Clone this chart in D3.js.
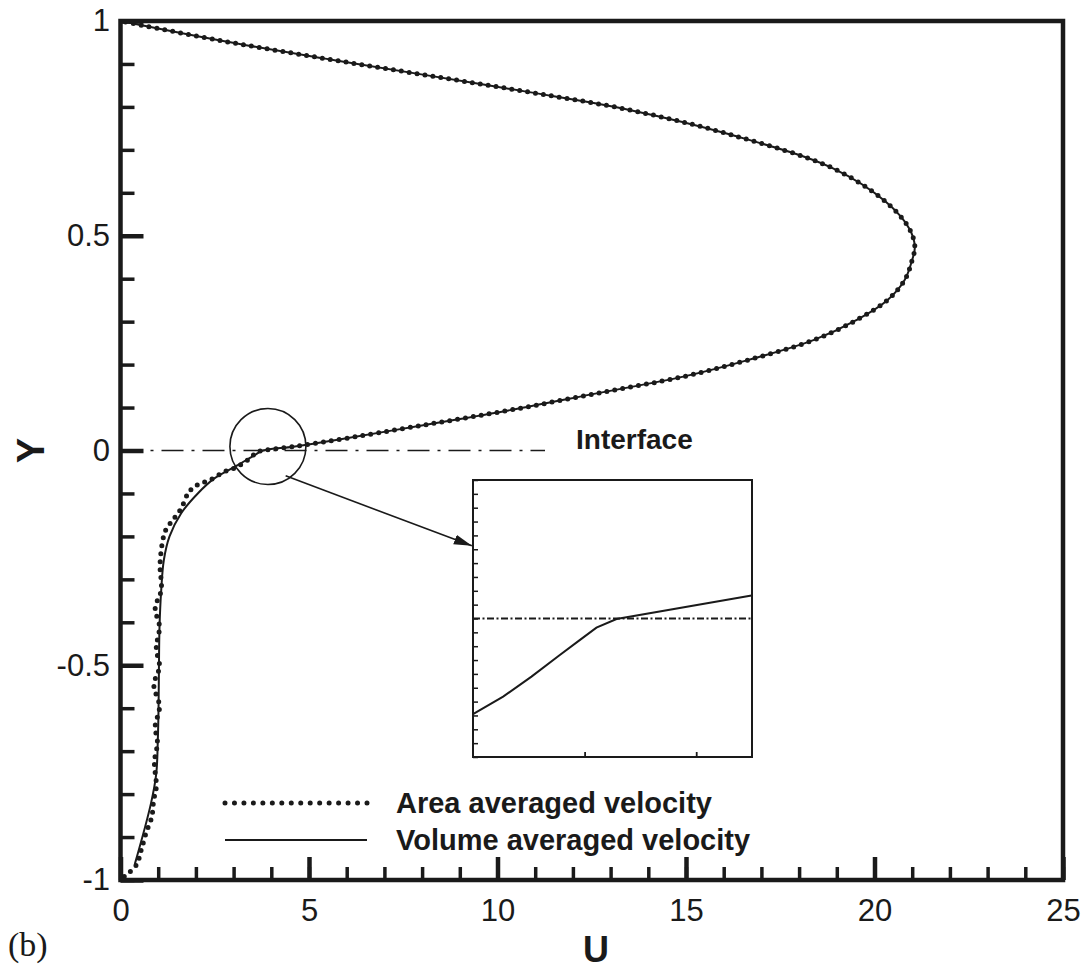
<!DOCTYPE html>
<html><head><meta charset="utf-8">
<script src="https://cdn.jsdelivr.net/npm/d3@7"></script>
<style>
body{margin:0;background:#fff}
svg{display:block}
text{font-family:"Liberation Sans",Arial,Helvetica,sans-serif;fill:#1a1a1a}
</style>
</head><body>
<svg id="chart" width="1089" height="969"></svg>
<script>
// ---------- data ----------
const xMajorTicks = [0, 5, 10, 15, 20, 25];
const xMinorTicks = d3.range(0, 26, 1);
const yMajorTicks = [-1, -0.5, 0, 0.5, 1];
const yMajorLabels = ["-1", "-0.5", "0", "0.5", "1"];
const yMinorTicks = d3.range(-10, 11, 1).map(d => d / 10);

// shared upper (Y > 0) profile
const upperU = [3.78, 4.58, 5.72, 8.03, 10.33, 12.63, 14.93, 16.66, 18.38, 19.53, 20.34, 20.8, 21.0, 21.07, 20.92, 20.3, 18.9, 16.2, 13.5, 10.8, 8.1, 5.39, 2.68, 0];
const upperY = [0, 0.009, 0.0245, 0.059, 0.094, 0.133, 0.172, 0.211, 0.257, 0.304, 0.35, 0.397, 0.444, 0.475, 0.517, 0.579, 0.657, 0.735, 0.793, 0.835, 0.874, 0.913, 0.954, 1.0];

// volume averaged velocity, lower (Y < 0) part
const volLowerU = [0.38, 0.81, 0.95, 0.99, 1.01, 1.02, 1.035, 1.08, 1.15, 1.30, 1.61, 2.05, 2.49, 3.11, 3.56];
const volLowerY = [-0.963, -0.821, -0.751, -0.674, -0.596, -0.503, -0.41, -0.325, -0.255, -0.2, -0.146, -0.1, -0.065, -0.034, -0.0105];

// area averaged velocity, lower (Y < 0) part
const areaLowerU = [0.1, 0.42, 0.55, 0.68, 0.83, 0.88, 0.95, 0.90, 0.98, 0.92, 1.035, 0.885, 1.035, 0.95, 0.97, 1.035, 0.92, 1.08, 1.05, 1.19, 1.39, 1.61, 1.79, 1.96, 2.18, 2.41, 2.76, 3.03, 3.38, 3.64];
const areaLowerY = [-0.992, -0.965, -0.93, -0.89, -0.853, -0.814, -0.783, -0.725, -0.68, -0.643, -0.596, -0.546, -0.503, -0.464, -0.445, -0.41, -0.367, -0.325, -0.262, -0.187, -0.162, -0.135, -0.1, -0.084, -0.075, -0.067, -0.049, -0.041, -0.022, -0.003];

// interface line
const interfaceU = [0, 11.26];
const interfaceY = [0, 0];

// inset (zoom of the interface region)
const insetDomainU = [3.2, 4.45];
const insetDomainY = [-0.05, 0.05];
const insetXTicks = [3.7, 4.2];
const insetYTicks = d3.range(-10, 11, 1).map(d => d * 0.005);
const insetU = [3.2, 3.335, 3.462, 3.589, 3.678, 3.753, 3.843, 4.448];
const insetY = [-0.0345, -0.0282, -0.0210, -0.0132, -0.0078, -0.0033, -0.0002, 0.0083];

const seriesNames = ["Area averaged velocity", "Volume averaged velocity"];

// ---------- drawing ----------
const svg = d3.select("#chart");
svg.append("rect").attr("width", 1089).attr("height", 969).attr("fill", "#fff");

const x = d3.scaleLinear().domain([0, 25]).range([120.5, 1063]);
const y = d3.scaleLinear().domain([-1, 1]).range([880, 21]);
const ink = "#1a1a1a";

const zip = (a, b) => a.map((v, i) => [v, b[i]]);
const volData = zip(volLowerU, volLowerY).concat(zip(upperU, upperY));
const areaData = zip(areaLowerU, areaLowerY).concat(zip(upperU, upperY));

const line = d3.line().x(d => x(d[0])).y(d => y(d[1])).curve(d3.curveCatmullRom.alpha(0.5));

// interface dash-dot
svg.append("path")
  .attr("d", d3.line().x(d => x(d[0])).y(d => y(d[1]))(zip(interfaceU, interfaceY)))
  .attr("fill", "none").attr("stroke", ink).attr("stroke-width", 1.6)
  .attr("stroke-dasharray", "22 8 3 8");

// curves
svg.append("path").attr("d", line(volData))
  .attr("fill", "none").attr("stroke", ink).attr("stroke-width", 2);
svg.append("path").attr("d", line(areaData))
  .attr("fill", "none").attr("stroke", ink).attr("stroke-width", 5)
  .attr("stroke-linecap", "round").attr("stroke-dasharray", "0 8");

// circle marking zoom region
svg.append("circle").attr("cx", x(3.91)).attr("cy", y(0.0093)).attr("r", 38)
  .attr("fill", "none").attr("stroke", ink).attr("stroke-width", 1.6);

// arrow
const defs = svg.append("defs");
defs.append("marker").attr("id", "ah").attr("markerUnits", "userSpaceOnUse")
  .attr("markerWidth", 20).attr("markerHeight", 12).attr("refX", 18).attr("refY", 5)
  .attr("orient", "auto")
  .append("path").attr("d", "M0,0 L18,5 L0,10 Z").attr("fill", ink);
svg.append("line")
  .attr("x1", x(4.38)).attr("y1", y(-0.059)).attr("x2", x(9.32)).attr("y2", y(-0.222))
  .attr("stroke", ink).attr("stroke-width", 1.6).attr("marker-end", "url(#ah)");

// axes (ticks inside)
const gx = svg.append("g").attr("transform", `translate(0,${y(-1)})`);
gx.call(d3.axisBottom(x).tickValues(xMinorTicks).tickSize(-13).tickFormat(""))
  .call(g => g.select(".domain").remove());
gx.selectAll("line").attr("stroke", ink).attr("stroke-width", 3.5);
const gx2 = svg.append("g").attr("transform", `translate(0,${y(-1)})`);
gx2.call(d3.axisBottom(x).tickValues(xMajorTicks).tickSize(-23).tickPadding(19).tickFormat(d3.format("d")))
  .call(g => g.select(".domain").remove());
gx2.selectAll("line").attr("stroke", ink).attr("stroke-width", 4.5);
gx2.selectAll("text").attr("font-size", 31).attr("fill", "#222")
  .style("font-family", '"Liberation Sans",Arial,sans-serif');

const gy = svg.append("g").attr("transform", `translate(${x(0)},0)`);
gy.call(d3.axisLeft(y).tickValues(yMinorTicks).tickSize(-14).tickFormat(""))
  .call(g => g.select(".domain").remove());
gy.selectAll("line").attr("stroke", ink).attr("stroke-width", 3.5);
const gy2 = svg.append("g").attr("transform", `translate(${x(0)},0)`);
gy2.call(d3.axisLeft(y).tickValues(yMajorTicks).tickSize(-23).tickPadding(10.5)
    .tickFormat((d, i) => yMajorLabels[i]))
  .call(g => g.select(".domain").remove());
gy2.selectAll("line").attr("stroke", ink).attr("stroke-width", 4.5);
gy2.selectAll("text").attr("font-size", 31).attr("fill", "#222")
  .style("font-family", '"Liberation Sans",Arial,sans-serif');

// frame
svg.append("rect").attr("x", x(0)).attr("y", y(1))
  .attr("width", x(25) - x(0)).attr("height", y(-1) - y(1))
  .attr("fill", "none").attr("stroke", ink).attr("stroke-width", 4.5);

// axis titles
svg.append("text").attr("x", 596).attr("y", 962).attr("text-anchor", "middle")
  .attr("font-size", 36).attr("font-weight", "bold").text("U");
svg.append("text").attr("transform", `translate(30,${y(0)}) rotate(-90)`)
  .attr("text-anchor", "middle").attr("dy", "0.36em")
  .attr("font-size", 38).attr("font-weight", "bold").text("Y");
svg.append("text").attr("x", 8).attr("y", 956)
  .attr("font-size", 34).style("font-family", '"Liberation Serif","Times New Roman",serif').text("(b)");

// Interface label
svg.append("text").attr("x", 576).attr("y", 449)
  .attr("font-size", 28).attr("font-weight", "bold").text("Interface");

// legend
const legendY = [803, 840];
const lg = svg.append("g");
lg.append("line").attr("x1", 225).attr("x2", 367).attr("y1", legendY[0]).attr("y2", legendY[0])
  .attr("stroke", ink).attr("stroke-width", 5).attr("stroke-linecap", "round")
  .attr("stroke-dasharray", `0 ${142 / 15}`);
lg.append("line").attr("x1", 225).attr("x2", 367).attr("y1", legendY[1]).attr("y2", legendY[1])
  .attr("stroke", ink).attr("stroke-width", 2);
seriesNames.forEach((n, i) => {
  lg.append("text").attr("x", 396).attr("y", legendY[i]).attr("dy", "0.36em")
    .attr("font-size", 29).attr("font-weight", "bold").text(n);
});

// inset
const insetLeft = 473, insetRight = 752, insetTop = 480, insetBottom = 757;
const ix = d3.scaleLinear().domain(insetDomainU).range([insetLeft, insetRight]);
const iy = d3.scaleLinear().domain(insetDomainY).range([insetBottom, insetTop]);
const ig = svg.append("g");
ig.append("rect").attr("x", insetLeft).attr("y", insetTop)
  .attr("width", insetRight - insetLeft).attr("height", insetBottom - insetTop)
  .attr("fill", "#fff");
ig.append("line").attr("x1", ix(insetDomainU[0])).attr("x2", ix(insetDomainU[1]))
  .attr("y1", iy(0)).attr("y2", iy(0))
  .attr("stroke", ink).attr("stroke-width", 2).attr("stroke-dasharray", "7 2.5 2 2.5");
ig.append("path")
  .attr("d", d3.line().x(d => ix(d[0])).y(d => iy(d[1]))(zip(insetU, insetY)))
  .attr("fill", "none").attr("stroke", ink).attr("stroke-width", 2);
const igx = ig.append("g").attr("transform", `translate(0,${insetBottom})`);
igx.call(d3.axisBottom(ix).tickValues(insetXTicks).tickSize(-5).tickFormat(""))
  .call(g => g.select(".domain").remove());
igx.selectAll("line").attr("stroke", ink).attr("stroke-width", 1.8);
const igy = ig.append("g").attr("transform", `translate(${insetLeft},0)`);
igy.call(d3.axisLeft(iy).tickValues(insetYTicks).tickSize(-5).tickFormat(""))
  .call(g => g.select(".domain").remove());
igy.selectAll("line").attr("stroke", ink).attr("stroke-width", 1.5);
ig.append("rect").attr("x", insetLeft).attr("y", insetTop)
  .attr("width", insetRight - insetLeft).attr("height", insetBottom - insetTop)
  .attr("fill", "none").attr("stroke", ink).attr("stroke-width", 2);
</script>
</body></html>
